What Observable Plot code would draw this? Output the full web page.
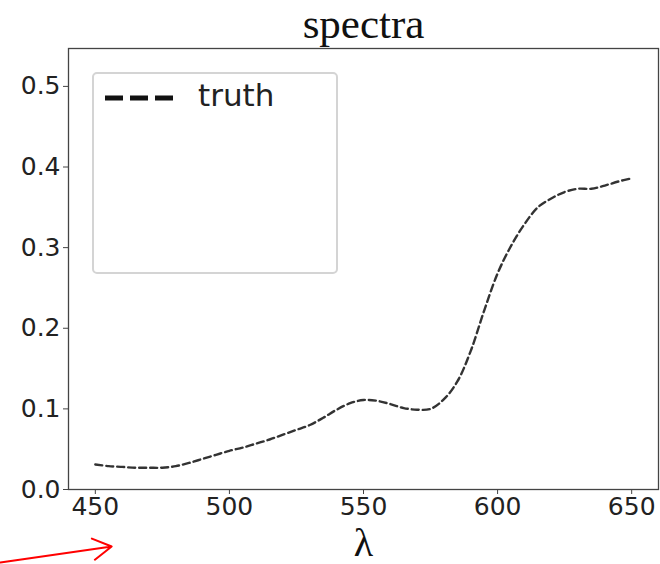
<!DOCTYPE html>
<html>
<head>
<meta charset="utf-8">
<script src="https://cdn.jsdelivr.net/npm/d3@7"></script>
<script src="https://cdn.jsdelivr.net/npm/@observablehq/plot@0.6"></script>
<style>
  html, body { margin: 0; padding: 0; background: #fff; }
  #wrap { position: relative; width: 660px; height: 564px; overflow: hidden; }
  #legend {
    position: absolute; left: 92px; top: 72px; width: 246px; height: 202px;
    border: 2px solid #d4d4d4; border-radius: 5px; box-sizing: border-box; background: #fff;
  }
  #legend svg { position: absolute; left: 9px; top: 14px; }
  #legend span {
    position: absolute; left: 104px; top: 3px;
    font-family: "DejaVu Sans", sans-serif; font-size: 31px; color: #222;
  }
</style>
</head>
<body>
<div id="wrap"></div>
<script>
// wavelength (nm)
const wavelengths = [450,455,460,465,470,475,480,485,490,495,500,505,510,515,520,525,530,535,540,545,550,555,560,565,570,575,580,585,590,595,600,605,610,615,620,625,630,635,640,645,650];
// "truth" spectrum values
const truth = [0.031,0.029,0.028,0.027,0.027,0.027,0.029,0.033,0.038,0.043,0.048,0.052,0.057,0.062,0.068,0.074,0.080,0.089,0.099,0.107,0.111,0.110,0.106,0.101,0.099,0.100,0.112,0.134,0.172,0.222,0.268,0.302,0.329,0.350,0.361,0.369,0.373,0.373,0.377,0.382,0.386];
const xTicks = [450, 500, 550, 600, 650];
const yTicks = [0.0, 0.1, 0.2, 0.3, 0.4, 0.5];
const titleText = "spectra";
const xLabel = "λ";
const legendLabel = "truth";
// red annotation arrow (data units)
const arrowNote = [{x1: 414.6, y1: -0.0905, x2: 456.1, y2: -0.0707}];

const rows = wavelengths.map((w, i) => ({w, v: truth[i]}));

const chart = Plot.plot({
  width: 660,
  height: 564,
  marginLeft: 68,
  marginRight: 2,
  marginTop: 48,
  marginBottom: 75,
  style: {background: "#fff", overflow: "visible"},
  x: {domain: [440, 660]},
  y: {domain: [0, 0.547]},
  marks: [
    Plot.axisX({ticks: xTicks, tickSize: 5, tickPadding: 3, fontSize: 25, fill: "#222", stroke: "#444", label: null, fontFamily: "DejaVu Sans"}),
    Plot.axisY({ticks: yTicks, tickSize: 5, tickPadding: 3, fontSize: 25, fill: "#222", stroke: "#444", label: null, tickFormat: d3.format(".1f"), fontFamily: "DejaVu Sans"}),
    Plot.line(rows, {x: "w", y: "v", stroke: "#333", strokeWidth: 2.4, strokeDasharray: "7,4", curve: "catmull-rom"}),
    Plot.frame({stroke: "#444", strokeWidth: 1.3}),
    Plot.text([titleText], {frameAnchor: "top", dy: -11, lineAnchor: "bottom", fontSize: 43, letterSpacing: "2px", fontFamily: "Liberation Serif, serif", fill: "#111"}),
    Plot.text([xLabel], {frameAnchor: "bottom", dy: 38, lineAnchor: "top", fontSize: 40, fontFamily: "Liberation Serif, serif", fill: "#111"}),
    Plot.arrow(arrowNote, {x1: "x1", y1: "y1", x2: "x2", y2: "y2", stroke: "red", strokeWidth: 2, headLength: 16, clip: false})
  ]
});

const wrap = document.getElementById("wrap");
wrap.appendChild(chart);

const legend = document.createElement("div");
legend.id = "legend";
legend.innerHTML = `<svg width="72" height="20"><line x1="2" y1="10" x2="70" y2="10" stroke="#111" stroke-width="5" stroke-dasharray="18,7"/></svg><span>${legendLabel}</span>`;
wrap.appendChild(legend);
</script>
</body>
</html>
